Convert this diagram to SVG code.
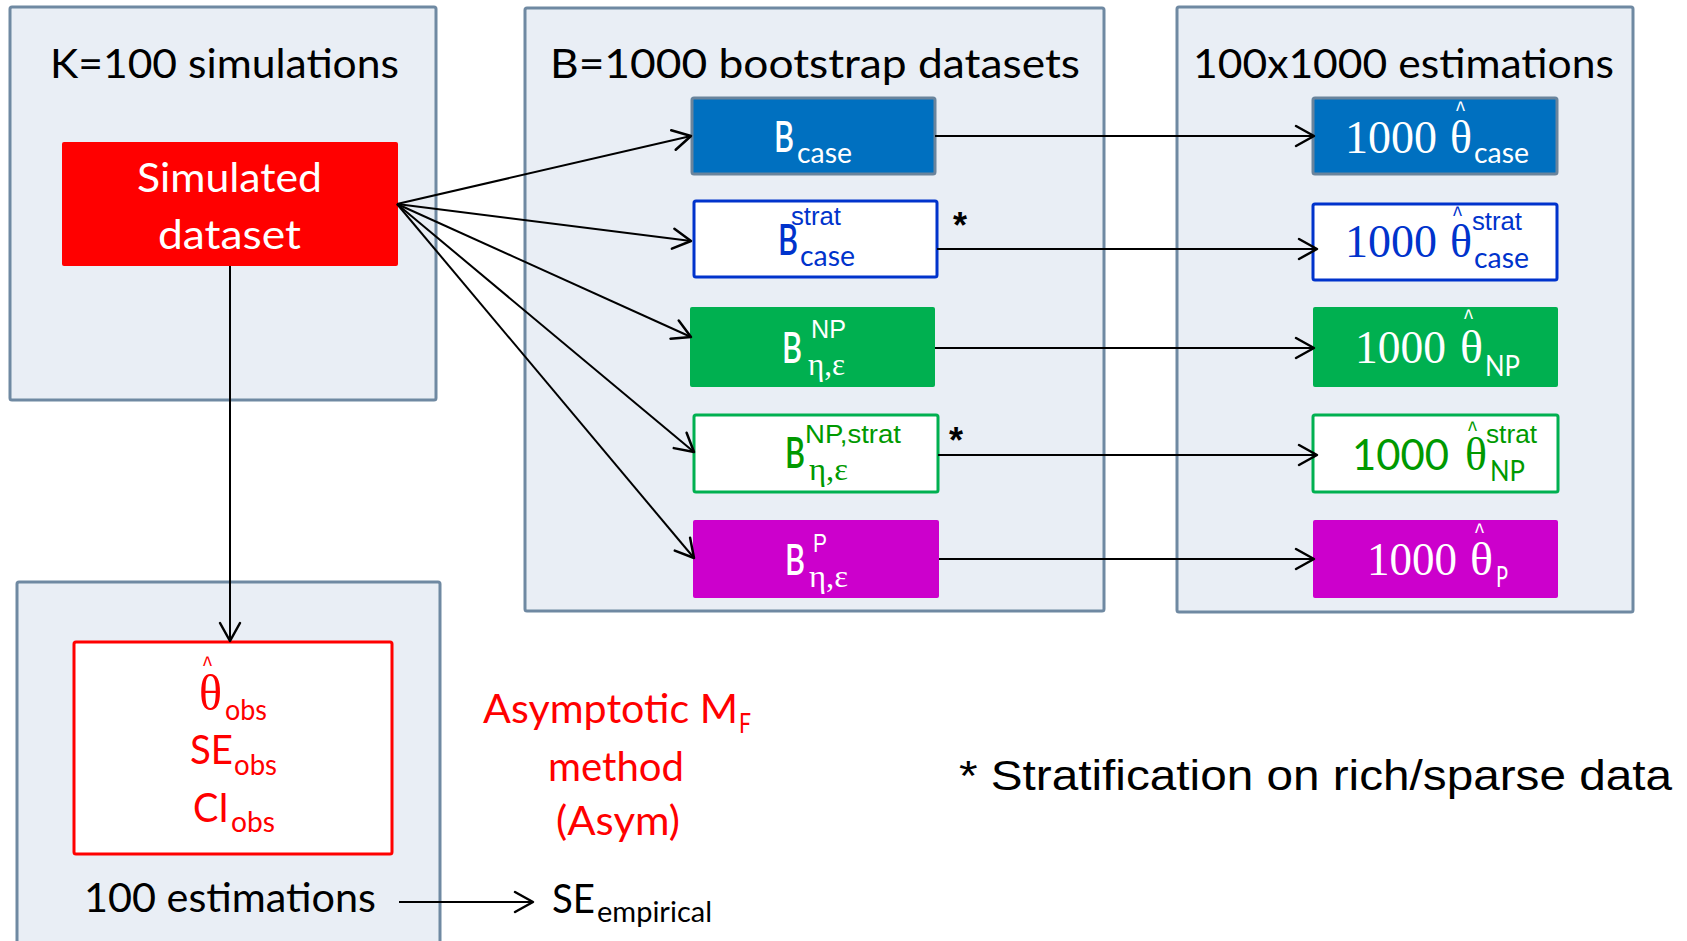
<svg xmlns="http://www.w3.org/2000/svg" width="1687" height="941" viewBox="0 0 1687 941">
<style>
.panel{fill:#E9EEF5;stroke:#6F89A2;stroke-width:3}
.g{font-family:Lato,"Open Sans","DejaVu Sans",sans-serif}
.title{font-family:Lato,"Open Sans","DejaVu Sans",sans-serif;font-size:41px;fill:#000}
.big{font-size:40px}
.bb{font-family:Lato,"Open Sans","DejaVu Sans",sans-serif;font-size:42px;font-weight:600}
.sub{font-family:Lato,"Open Sans","DejaVu Sans",sans-serif;font-size:28px}
.ar{font-family:"Liberation Sans",Arial,sans-serif;font-size:25px}
.eta{font-family:"Liberation Serif","Times New Roman",serif;font-size:31px}
.num{font-family:"Liberation Serif","Times New Roman",serif;font-size:46px}
.hat{font-family:"Liberation Sans",Arial,sans-serif;font-size:26px}
.ast{font-family:"Liberation Sans",Arial,sans-serif;font-size:36px;font-weight:bold;fill:#000}
.conn line{stroke:#000;stroke-width:2;fill:none;marker-end:url(#arr)}
</style>
<defs>
<marker id="arr" markerUnits="userSpaceOnUse" viewBox="-21 -13 24 26" markerWidth="24" markerHeight="26" refX="0" refY="0" orient="auto">
<path d="M-18,-10 L0,0 L-18,10" fill="none" stroke="#000" stroke-width="2.5" stroke-linecap="round" stroke-linejoin="round"/>
</marker>
</defs>
<rect width="1687" height="941" fill="#fff"/>

<g id="panel-sim">
<rect class="panel" x="10" y="7" width="426" height="393" rx="2"/>
<text class="title" x="50" y="78" textLength="349" lengthAdjust="spacingAndGlyphs">K=100 simulations</text>
</g>
<g id="panel-boot">
<rect class="panel" x="525" y="8" width="579" height="603" rx="2"/>
<text class="title" x="550" y="78" textLength="530" lengthAdjust="spacingAndGlyphs">B=1000 bootstrap datasets</text>
</g>
<g id="panel-est">
<rect class="panel" x="1177" y="7" width="456" height="605" rx="2"/>
<text class="title" x="1193" y="78" textLength="421" lengthAdjust="spacingAndGlyphs">100x1000 estimations</text>
</g>
<g id="panel-obs">
<rect class="panel" x="17" y="582" width="423" height="380" rx="2"/>
<text class="g big" x="84" y="912" textLength="292" lengthAdjust="spacingAndGlyphs">100 estimations</text>
</g>

<g id="simulated">
<rect x="62" y="142" width="336" height="124" rx="2" fill="#FF0000"/>
<text class="g big" fill="#fff" x="137" y="192" textLength="185" lengthAdjust="spacingAndGlyphs">Simulated</text>
<text class="g big" fill="#fff" x="158" y="249" textLength="143" lengthAdjust="spacingAndGlyphs">dataset</text>
</g>

<g id="b-case">
<rect x="692" y="98" width="243" height="76" rx="2" fill="#0070C0" stroke="#6A849C" stroke-width="3"/>
<text fill="#fff"><tspan class="bb" x="774" y="152" textLength="20" lengthAdjust="spacingAndGlyphs">B</tspan><tspan class="sub" x="797" y="163" textLength="55" lengthAdjust="spacingAndGlyphs">case</tspan></text>
</g>
<g id="b-case-strat">
<rect x="694" y="201" width="243" height="76" rx="2" fill="#fff" stroke="#0033CC" stroke-width="3"/>
<text fill="#0033CC"><tspan class="ar" x="791" y="225" textLength="50" lengthAdjust="spacingAndGlyphs">strat</tspan><tspan class="bb" x="778" y="255" textLength="20" lengthAdjust="spacingAndGlyphs">B</tspan><tspan class="sub" x="800" y="266" textLength="55" lengthAdjust="spacingAndGlyphs">case</tspan></text>
<text class="ast" x="953" y="238">*</text>
</g>
<g id="b-np">
<rect x="690" y="307" width="245" height="80" rx="2" fill="#00B050"/>
<text fill="#fff"><tspan class="bb" x="782" y="363" textLength="20" lengthAdjust="spacingAndGlyphs">B</tspan><tspan class="ar" x="811" y="338" textLength="35" lengthAdjust="spacingAndGlyphs">NP</tspan><tspan class="eta" x="808" y="375" textLength="37" lengthAdjust="spacingAndGlyphs">η,ε</tspan></text>
</g>
<g id="b-np-strat">
<rect x="694" y="415" width="244" height="77" rx="2" fill="#fff" stroke="#00B050" stroke-width="3"/>
<text fill="#009900"><tspan class="bb" x="785" y="468" textLength="20" lengthAdjust="spacingAndGlyphs">B</tspan><tspan class="ar" x="805" y="443" textLength="96" lengthAdjust="spacingAndGlyphs">NP,strat</tspan><tspan class="eta" x="809" y="480" textLength="39" lengthAdjust="spacingAndGlyphs">η,ε</tspan></text>
<text class="ast" x="949" y="453">*</text>
</g>
<g id="b-p">
<rect x="693" y="520" width="246" height="78" rx="2" fill="#CC00CC"/>
<text fill="#fff"><tspan class="bb" x="785" y="575" textLength="20" lengthAdjust="spacingAndGlyphs">B</tspan><tspan class="ar" x="813" y="552" textLength="14" lengthAdjust="spacingAndGlyphs">P</tspan><tspan class="eta" x="809" y="587" textLength="39" lengthAdjust="spacingAndGlyphs">η,ε</tspan></text>
</g>

<g id="e-case">
<rect x="1313" y="98" width="244" height="76" rx="2" fill="#0070C0" stroke="#6A849C" stroke-width="3"/>
<text fill="#fff"><tspan class="num" x="1345" y="153" textLength="92" lengthAdjust="spacingAndGlyphs">1000</tspan><tspan class="num" x="1450" y="153" textLength="22" lengthAdjust="spacingAndGlyphs">θ</tspan><tspan class="hat" x="1456" y="120" textLength="9" lengthAdjust="spacingAndGlyphs">^</tspan><tspan class="sub" x="1474" y="163" textLength="55" lengthAdjust="spacingAndGlyphs">case</tspan></text>
</g>
<g id="e-case-strat">
<rect x="1313" y="204" width="244" height="76" rx="2" fill="#fff" stroke="#0033CC" stroke-width="3"/>
<text fill="#0033CC"><tspan class="num" x="1345" y="257" textLength="92" lengthAdjust="spacingAndGlyphs">1000</tspan><tspan class="num" x="1450" y="257" textLength="22" lengthAdjust="spacingAndGlyphs">θ</tspan><tspan class="hat" x="1453" y="225" textLength="9" lengthAdjust="spacingAndGlyphs">^</tspan><tspan class="ar" x="1472" y="230" textLength="50" lengthAdjust="spacingAndGlyphs">strat</tspan><tspan class="sub" x="1474" y="268" textLength="55" lengthAdjust="spacingAndGlyphs">case</tspan></text>
</g>
<g id="e-np">
<rect x="1313" y="307" width="245" height="80" rx="2" fill="#00B050"/>
<text fill="#fff"><tspan class="num" x="1355" y="363" textLength="91" lengthAdjust="spacingAndGlyphs">1000</tspan><tspan class="num" x="1460" y="363" textLength="23" lengthAdjust="spacingAndGlyphs">θ</tspan><tspan class="hat" x="1464" y="328" textLength="9" lengthAdjust="spacingAndGlyphs">^</tspan><tspan class="sub" x="1485" y="376" textLength="35" lengthAdjust="spacingAndGlyphs">NP</tspan></text>
</g>
<g id="e-np-strat">
<rect x="1313" y="415" width="245" height="77" rx="2" fill="#fff" stroke="#00B050" stroke-width="3"/>
<text fill="#009900"><tspan class="g" font-size="42" x="1352" y="470" textLength="97" lengthAdjust="spacingAndGlyphs">1000</tspan><tspan class="num" x="1465" y="470" textLength="22" lengthAdjust="spacingAndGlyphs">θ</tspan><tspan class="hat" x="1468" y="440" textLength="9" lengthAdjust="spacingAndGlyphs">^</tspan><tspan class="ar" x="1486" y="443" textLength="51" lengthAdjust="spacingAndGlyphs">strat</tspan><tspan class="sub" x="1490" y="481" textLength="35" lengthAdjust="spacingAndGlyphs">NP</tspan></text>
</g>
<g id="e-p">
<rect x="1313" y="520" width="245" height="78" rx="2" fill="#CC00CC"/>
<text fill="#fff"><tspan class="num" x="1367" y="575" textLength="90" lengthAdjust="spacingAndGlyphs">1000</tspan><tspan class="num" x="1470" y="575" textLength="23" lengthAdjust="spacingAndGlyphs">θ</tspan><tspan class="hat" x="1475" y="542" textLength="9" lengthAdjust="spacingAndGlyphs">^</tspan><tspan class="sub" x="1496" y="587" textLength="12" lengthAdjust="spacingAndGlyphs">P</tspan></text>
</g>

<g id="obs">
<rect x="74" y="642" width="318" height="212" rx="2" fill="#fff" stroke="#FF0000" stroke-width="3"/>
<text fill="#FF0000"><tspan class="hat" x="203" y="675" textLength="9" lengthAdjust="spacingAndGlyphs">^</tspan><tspan font-family="'Liberation Serif','Times New Roman',serif" font-size="50" x="199" y="710" textLength="23" lengthAdjust="spacingAndGlyphs">θ</tspan><tspan class="sub" x="225" y="720" textLength="42" lengthAdjust="spacingAndGlyphs">obs</tspan></text>
<text fill="#FF0000"><tspan class="g big" x="190" y="764" textLength="43" lengthAdjust="spacingAndGlyphs">SE</tspan><tspan class="sub" x="234" y="775" textLength="43" lengthAdjust="spacingAndGlyphs">obs</tspan></text>
<text fill="#FF0000"><tspan class="g big" x="193" y="822" textLength="36" lengthAdjust="spacingAndGlyphs">CI</tspan><tspan class="sub" x="231" y="832" textLength="44" lengthAdjust="spacingAndGlyphs">obs</tspan></text>
</g>

<g id="asym">
<text fill="#FF0000"><tspan class="g big" x="483" y="723" textLength="255" lengthAdjust="spacingAndGlyphs">Asymptotic M</tspan><tspan class="g" font-size="26" x="739" y="733" textLength="12" lengthAdjust="spacingAndGlyphs">F</tspan></text>
<text class="g big" fill="#FF0000" x="548" y="781" textLength="136" lengthAdjust="spacingAndGlyphs">method</text>
<text class="g big" fill="#FF0000" x="556" y="835" textLength="124" lengthAdjust="spacingAndGlyphs">(Asym)</text>
</g>

<g id="se-empirical">
<text fill="#000"><tspan class="g big" x="552" y="913" textLength="43" lengthAdjust="spacingAndGlyphs">SE</tspan><tspan class="sub" x="597" y="922" textLength="115" lengthAdjust="spacingAndGlyphs">empirical</tspan></text>
</g>

<g id="note">
<text font-family="'Liberation Sans',Arial,sans-serif" font-size="42" fill="#000" x="959" y="790" textLength="713" lengthAdjust="spacingAndGlyphs">* Stratification on rich/sparse data</text>
</g>

<g id="connectors" class="conn">
<line x1="397" y1="204" x2="691" y2="136"/>
<line x1="397" y1="204" x2="691" y2="241"/>
<line x1="397" y1="204" x2="691" y2="337"/>
<line x1="397" y1="204" x2="694" y2="452"/>
<line x1="397" y1="204" x2="694" y2="558"/>
<line x1="230" y1="266" x2="230" y2="641"/>
<line x1="935" y1="136" x2="1314" y2="136"/>
<line x1="937" y1="249" x2="1317" y2="249"/>
<line x1="935" y1="348" x2="1314" y2="348"/>
<line x1="938" y1="455" x2="1317" y2="455"/>
<line x1="939" y1="559" x2="1314" y2="559"/>
<line x1="399" y1="902" x2="533" y2="902"/>
</g>
</svg>
